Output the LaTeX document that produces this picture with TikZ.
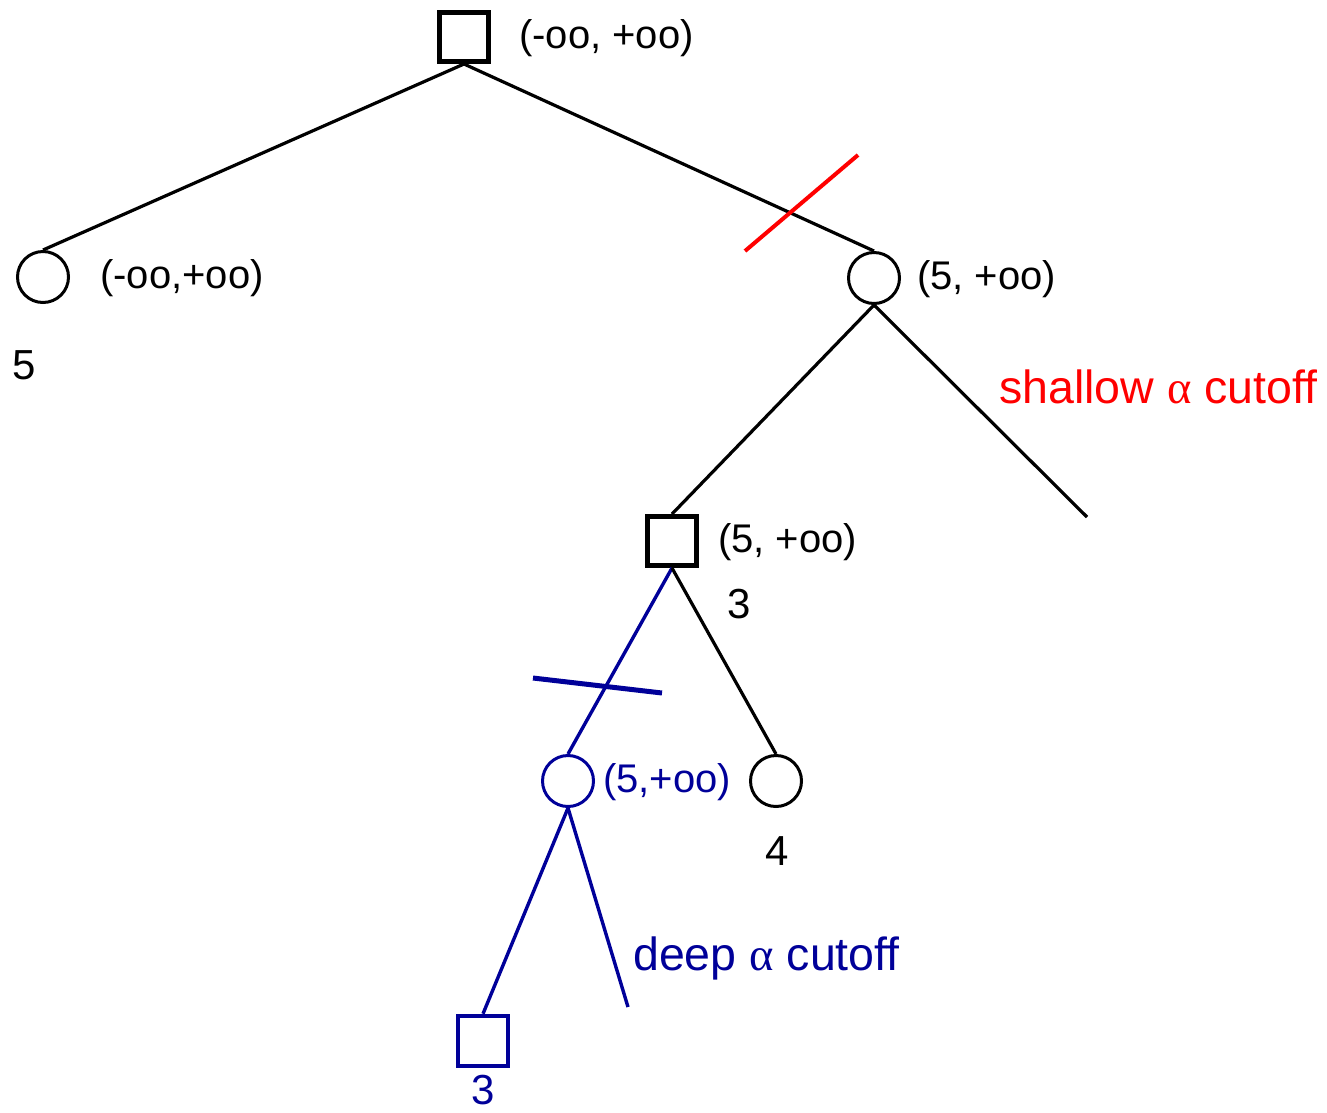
\documentclass[tikz,border=0pt]{standalone}
\usepackage{fontspec}
\setmainfont{Liberation Sans}
\newfontfamily\alphafont{Liberation Serif}
\definecolor{navy}{RGB}{0,0,153}
\definecolor{cutred}{RGB}{255,0,0}
\begin{document}
\begin{tikzpicture}[x=1pt,y=-1pt,
  sq/.style={draw, rectangle, line width=5pt, minimum size=49pt, inner sep=0pt},
  sqb/.style={draw=navy, rectangle, line width=4.5pt, minimum size=50pt, inner sep=0pt},
  circ/.style={draw, circle, line width=3pt, minimum size=51pt, inner sep=0pt},
  circb/.style={draw=navy, circle, line width=3pt, minimum size=51pt, inner sep=0pt},
  edge/.style={line width=3.2pt},
  edgeb/.style={line width=3.4pt, draw=navy},
  lbl/.style={anchor=west, inner sep=0pt, font=\fontsize{40}{48}\selectfont},
  num/.style={inner sep=0pt, font=\fontsize{42}{50}\selectfont},
  cut/.style={inner sep=0pt, anchor=west, font=\fontsize{46.5}{56}\selectfont}
]
\useasboundingbox (0,0) rectangle (1327,1112);

% nodes
\node[sq] (root) at (464,37) {};
\node[circ] (c1) at (43,277) {};
\node[circ] (c2) at (874,278) {};
\node[sq] (s2) at (672,541) {};
\node[circb] (c3) at (568,781) {};
\node[circ] (c4) at (776,781) {};
\node[sqb] (s3) at (483,1041) {};
\coordinate (f1) at (1087,517);
\coordinate (f2) at (628,1007);

% labels
\node[lbl] (l0) at (519,38) {(-oo, +oo)};
\node[lbl] (l1) at (100,278) {(-oo,+oo)};
\node[num] (n1) at (24,365) {5};
\node[lbl] (l2) at (917,279) {(5, +oo)};
\node[lbl] (l3) at (718,542) {(5, +oo)};
\node[num] (n3) at (739,604) {3};
\node[lbl, text=navy] (l4) at (603,782) {(5,+oo)};
\node[num] (n4) at (777,851) {4};
\node[num, text=navy] (n5) at (483,1090) {3};
\node[cut, text=cutred] (shallow) at (999,387) {shallow {\alphafont α} cutoff};
\node[cut, text=navy] (deep) at (633,958) {deep {\alphafont α} cutoff};

% edges
\draw[edge] (root.south) -- (c1.north);
\draw[edge] (root.south) -- (c2.north);
\draw[edge] (c2.south) -- (s2.north);
\draw[edge] (c2.south) -- (f1);
\draw[edgeb] (s2.south) -- (c3.north);
\draw[edge] (s2.south) -- (c4.north);
\draw[edgeb] (c3.south) -- (s3.north);
\draw[edgeb] (c3.south) -- (f2);

% cut marks
\coordinate (r1) at (745,251);
\coordinate (r2) at (858,155);
\draw[cutred, line width=4pt] (r1) -- (r2);
\coordinate (b1) at (533,678);
\coordinate (b2) at (662,693);
\draw[navy, line width=5pt] (b1) -- (b2);
\end{tikzpicture}
\end{document}
